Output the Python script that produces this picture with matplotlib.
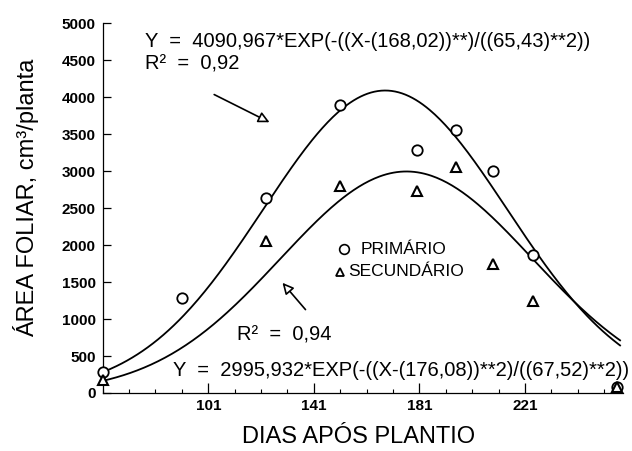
import matplotlib
matplotlib.use("Agg")
import matplotlib.pyplot as plt
from matplotlib.patches import FancyArrowPatch
from matplotlib.lines import Line2D
import numpy as np

plt.rcParams.update({
    "font.family": ["Liberation Sans", "DejaVu Sans"],
    "font.size": 10,
    "axes.linewidth": 0.9,
})

# data
dias = [61, 91, 123, 151, 180, 195, 209, 224, 256]
primario = [290, 1290, 2640, 3890, 3280, 3560, 3000, 1860, 80]
dias_sec = [61, 123, 151, 180, 195, 209, 224, 256]
secundario = [180, 2060, 2800, 2730, 3050, 1750, 1250, 80]

# fitted gaussian parameters printed on the chart (a, mu, sigma)
fit_prim = [4090.967, 168.02, 65.43]
fit_sec = [2995.932, 176.08, 67.52]

xticks_major = [101, 141, 181, 221]
xticks_minor = list(range(61, 258, 10))
yticks = list(range(0, 5001, 500))

W, H = 632, 451


def fx(px):
    return px / W


def fy(py):
    return 1 - py / H


def gauss(x, a, mu, s):
    return a * np.exp(-((x - mu) ** 2) / s ** 2)


fig = plt.figure(figsize=(6.32, 4.51), dpi=100)
ax = fig.add_axes([fx(102.7), fy(393), 520 / W, (393 - 23.3) / H])

xx = np.linspace(61, 257, 300)
ax.plot(xx, gauss(xx, *fit_prim), color="black", lw=1.3)
ax.plot(xx, gauss(xx, *fit_sec), color="black", lw=1.3)

ax.plot(dias, primario, ls="none", marker="o", ms=7.5, mfc="white",
        mec="black", mew=1.3, clip_on=False, zorder=3)
ax.plot(dias_sec, secundario, ls="none", marker="^", ms=7, mfc="white",
        mec="black", mew=1.5, clip_on=False, zorder=3)

ax.set_xlim(61, 258)
ax.set_ylim(0, 5000)
ax.spines["top"].set_visible(False)
ax.spines["right"].set_visible(False)

ax.set_xticks(xticks_major)
ax.set_xticks(xticks_minor, minor=True)
ax.set_yticks(yticks)
ax.tick_params(axis="x", which="major", direction="in", length=7, width=0.9,
               labelsize=11, pad=4)
ax.tick_params(axis="x", which="minor", direction="in", length=3, width=0.8)
ax.tick_params(axis="y", direction="in", length=6, width=0.9,
               labelsize=11, pad=5)
for lab in ax.get_xticklabels() + ax.get_yticklabels():
    lab.set_fontweight("bold")

fig.text(fx(26), fy(198), "ÁREA FOLIAR, cm³/planta", rotation=90,
         ha="center", va="center", fontsize=17)
fig.text(fx(359), fy(437), "DIAS APÓS PLANTIO", ha="center", va="center",
         fontsize=17)

fs = 14.5
fig.text(fx(145), fy(41.7),
         "Y  =  4090,967*EXP(-((X-(168,02))**)/((65,43)**2))",
         ha="left", va="center", fontsize=fs)
fig.text(fx(145), fy(63.7), "R²  =  0,92", ha="left", va="center", fontsize=fs)
fig.text(fx(237), fy(335), "R²  =  0,94", ha="left", va="center", fontsize=fs)
fig.text(fx(173), fy(370),
         "Y  =  2995,932*EXP(-((X-(176,08))**2)/((67,52)**2))",
         ha="left", va="center", fontsize=fs)

head = "-|>,head_length=0.6,head_width=0.3"
fig.add_artist(FancyArrowPatch(
    (fx(211.7), fy(93.3)), (fx(272), fy(123.5)),
    transform=fig.transFigure, arrowstyle=head,
    fc="white", ec="black", lw=1.2, mutation_scale=11))
fig.add_artist(FancyArrowPatch(
    (fx(307.3), fy(311.7)), (fx(280.7), fy(280.7)),
    transform=fig.transFigure, arrowstyle=head,
    fc="white", ec="black", lw=1.2, mutation_scale=11))

# legend drawn as text with markers
fig.add_artist(Line2D([fx(344)], [fy(249)], marker="o", ms=7,
                      mfc="white", mec="black", mew=1.2,
                      transform=fig.transFigure))
fig.add_artist(Line2D([fx(340)], [fy(272)], marker="^", ms=6,
                      mfc="white", mec="black", mew=1.3,
                      transform=fig.transFigure))
fig.text(fx(361), fy(249), "PRIMÁRIO", ha="left", va="center", fontsize=12.5)
fig.text(fx(348), fy(272), "SECUNDÁRIO", ha="left", va="center",
         fontsize=12.5)

fig.savefig("out.png", dpi=100)
